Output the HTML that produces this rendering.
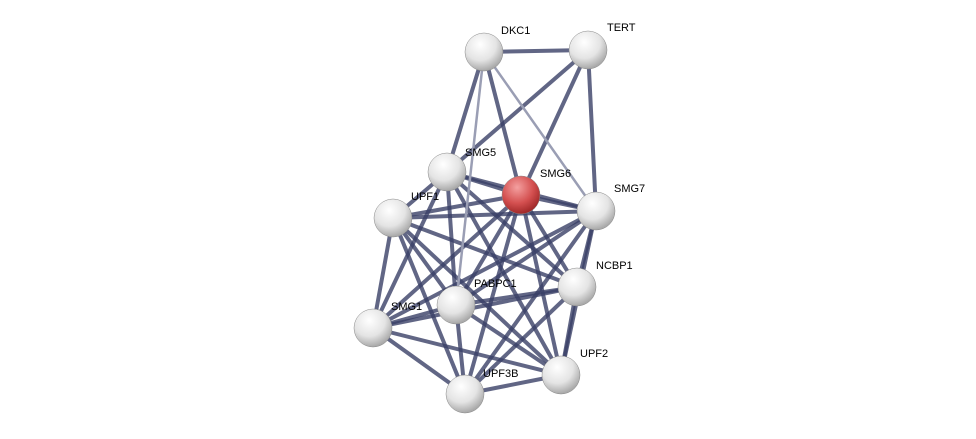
<!DOCTYPE html>
<html><head><meta charset="utf-8"><style>
html,body{margin:0;padding:0;background:#fff;}
svg{display:block;}
text{font-family:"Liberation Sans",sans-serif;font-size:11px;fill:#000;}
</style></head><body>
<svg width="976" height="439" viewBox="0 0 976 439" xmlns="http://www.w3.org/2000/svg">
<defs>
<radialGradient id="g" cx="40%" cy="30%" r="70%">
<stop offset="0" stop-color="#ffffff"/><stop offset="0.6" stop-color="#e4e4e4"/><stop offset="1" stop-color="#a8a8a8"/>
</radialGradient>
<radialGradient id="r" cx="40%" cy="30%" r="70%">
<stop offset="0" stop-color="#f4a0a0"/><stop offset="0.6" stop-color="#d45050"/><stop offset="1" stop-color="#a02828"/>
</radialGradient>
</defs>
<g stroke="#3a4066" stroke-opacity="0.8" stroke-width="4" stroke-linecap="round">
<line x1="484" y1="52" x2="588" y2="50"/>
<line x1="484" y1="52" x2="447" y2="172"/>
<line x1="484" y1="52" x2="521" y2="195"/>
<line x1="588" y1="50" x2="447" y2="172"/>
<line x1="588" y1="50" x2="521" y2="195"/>
<line x1="588" y1="50" x2="596" y2="211"/>
<line x1="447" y1="172" x2="521" y2="195"/>
<line x1="447" y1="172" x2="596" y2="211"/>
<line x1="447" y1="172" x2="393" y2="218"/>
<line x1="447" y1="172" x2="456" y2="305"/>
<line x1="447" y1="172" x2="577" y2="287"/>
<line x1="447" y1="172" x2="373" y2="328"/>
<line x1="447" y1="172" x2="561" y2="375"/>
<line x1="521" y1="195" x2="596" y2="211"/>
<line x1="521" y1="195" x2="393" y2="218"/>
<line x1="521" y1="195" x2="577" y2="287"/>
<line x1="521" y1="195" x2="561" y2="375"/>
<line x1="521" y1="195" x2="465" y2="394"/>
<line x1="521" y1="195" x2="373" y2="328"/>
<line x1="521" y1="195" x2="456" y2="305"/>
<line x1="596" y1="211" x2="393" y2="218"/>
<line x1="596" y1="211" x2="456" y2="305"/>
<line x1="596" y1="211" x2="373" y2="328"/>
<line x1="596" y1="211" x2="465" y2="394"/>
<line x1="596" y1="211" x2="577" y2="287"/>
<line x1="596" y1="211" x2="561" y2="375"/>
<line x1="393" y1="218" x2="456" y2="305"/>
<line x1="393" y1="218" x2="373" y2="328"/>
<line x1="393" y1="218" x2="465" y2="394"/>
<line x1="393" y1="218" x2="561" y2="375"/>
<line x1="393" y1="218" x2="577" y2="287"/>
<line x1="456" y1="305" x2="373" y2="328"/>
<line x1="456" y1="305" x2="465" y2="394"/>
<line x1="456" y1="305" x2="561" y2="375"/>
<line x1="456" y1="305" x2="577" y2="287"/>
<line x1="373" y1="328" x2="465" y2="394"/>
<line x1="373" y1="328" x2="561" y2="375"/>
<line x1="373" y1="328" x2="577" y2="287"/>
<line x1="577" y1="287" x2="561" y2="375"/>
<line x1="577" y1="287" x2="465" y2="394"/>
<line x1="561" y1="375" x2="465" y2="394"/>
</g>
<g stroke="#9a9eb4" stroke-width="2.5" stroke-linecap="round">
<line x1="484" y1="52" x2="596" y2="211"/>
<line x1="484" y1="52" x2="456" y2="305"/>
</g>
<g stroke="#888" stroke-width="0.5">
<circle cx="484" cy="52" r="19" fill="url(#g)"/>
<circle cx="588" cy="50" r="19" fill="url(#g)"/>
<circle cx="447" cy="172" r="19" fill="url(#g)"/>
<circle cx="521" cy="195" r="19" fill="url(#r)"/>
<circle cx="596" cy="211" r="19" fill="url(#g)"/>
<circle cx="393" cy="218" r="19" fill="url(#g)"/>
<circle cx="577" cy="287" r="19" fill="url(#g)"/>
<circle cx="456" cy="305" r="19" fill="url(#g)"/>
<circle cx="373" cy="328" r="19" fill="url(#g)"/>
<circle cx="561" cy="375" r="19" fill="url(#g)"/>
<circle cx="465" cy="394" r="19" fill="url(#g)"/>
</g>
<text x="501" y="34">DKC1</text>
<text x="607" y="31">TERT</text>
<text x="465" y="156">SMG5</text>
<text x="540" y="177">SMG6</text>
<text x="614" y="192">SMG7</text>
<text x="411" y="200">UPF1</text>
<text x="596" y="269">NCBP1</text>
<text x="474" y="287">PABPC1</text>
<text x="391" y="310">SMG1</text>
<text x="580" y="357">UPF2</text>
<text x="483" y="377">UPF3B</text>
</svg>
</body></html>
